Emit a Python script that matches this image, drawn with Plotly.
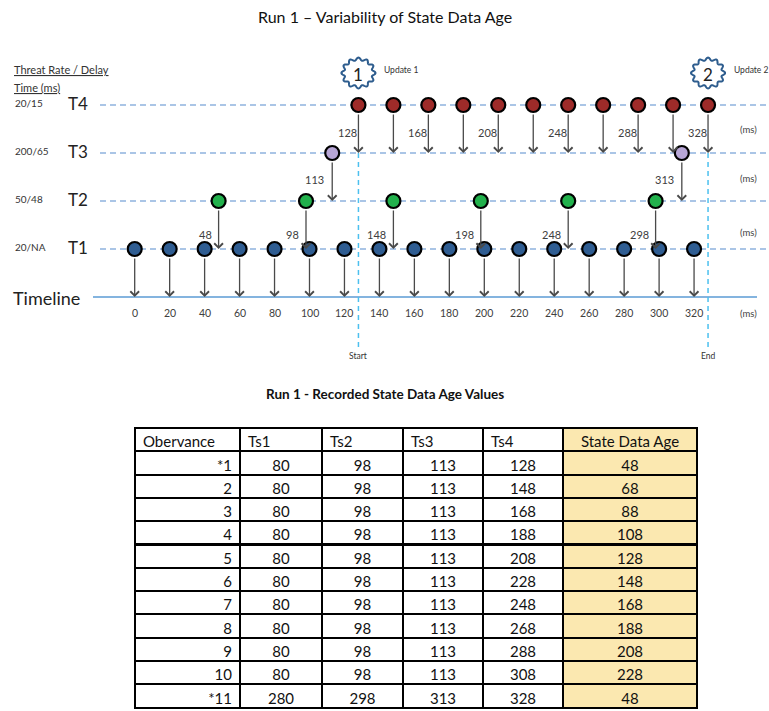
import numpy as np
import plotly.graph_objects as go

W, H = 769, 711

# ---- timing diagram data (ms) ----
t1_times = [0, 20, 40, 60, 80, 100, 120, 140, 160, 180, 200, 220, 240, 260, 280, 300, 320]
t2_times = [48, 98, 148, 198, 248, 298]
t3_times = [113, 313]
t4_times = [128, 148, 168, 188, 208, 228, 248, 268, 288, 308, 328]
t4_labelled = [128, 168, 208, 248, 288, 328]
update_times = [128, 328]
update_names = ["1", "2"]
tick_vals = [0, 20, 40, 60, 80, 100, 120, 140, 160, 180, 200, 220, 240, 260, 280, 300, 320]
thread_names = ["T1", "T2", "T3", "T4"]
thread_rates = ["20/NA", "50/48", "200/65", "20/15"]
thread_colors = ["#2f5d92", "#22b14c", "#b7a6d6", "#9e2b29"]

# ---- table data ----
obs = ["*1", "2", "3", "4", "5", "6", "7", "8", "9", "10", "*11"]
ts1 = [80, 80, 80, 80, 80, 80, 80, 80, 80, 80, 280]
ts2 = [98, 98, 98, 98, 98, 98, 98, 98, 98, 98, 298]
ts3 = [113, 113, 113, 113, 113, 113, 113, 113, 113, 113, 313]
ts4 = [128, 148, 168, 188, 208, 228, 248, 268, 288, 308, 328]
sda = [48, 68, 88, 108, 128, 148, 168, 188, 208, 228, 48]

FONT = "Lato"
X0, PXMS = 134.7, 1.748      # pixel of 0 ms, pixels per ms
Y0, PXLV = 297.0, 48.0       # pixel of timeline, pixels per level


def lv(py):
    return (Y0 - py) / PXLV


def px(x):
    return x / W


def py(y):
    return 1 - y / H


fig = go.Figure()

# level lines
shapes = []
for i in range(1, 5):
    shapes.append(dict(type="line", xref="paper", yref="y", x0=px(100), x1=px(766),
                       y0=i, y1=i, layer="below",
                       line=dict(color="#8fb3de", width=1.4, dash="6px,4px")))
shapes.append(dict(type="line", xref="paper", yref="y", x0=px(93), x1=px(757),
                   y0=0, y1=0, layer="below", line=dict(color="#5b9bd5", width=1.6)))

# update badges
th = np.linspace(0, 2 * np.pi, 241)
r = 1 + 0.1 * np.cos(12 * th)
bx, by = 15.5 * r * np.cos(th), 14 * r * np.sin(th)
badge = "M" + " L".join(f"{a:.2f},{b:.2f}" for a, b in zip(bx, by)) + " Z"
for t in update_times:
    shapes.append(dict(type="path", xref="x", yref="y", xsizemode="pixel", ysizemode="pixel",
                       xanchor=t, yanchor=lv(73), path=badge, fillcolor="white",
                       line=dict(color="#2e5d8e", width=2)))

# start / end lines
for t in update_times:
    fig.add_trace(go.Scatter(x=[t, t], y=[3, lv(350)], mode="lines",
                             line=dict(color="#4cc0ef", width=1.5, dash="5px,4px"),
                             hoverinfo="skip"))

# dots
for times, i in [(t1_times, 1), (t2_times, 2), (t3_times, 3), (t4_times, 4)]:
    fig.add_trace(go.Scatter(x=times, y=[i] * len(times), mode="markers",
                             marker=dict(size=14, color=thread_colors[i - 1],
                                         line=dict(color="black", width=2.2))))

ann = []
arrow = dict(showarrow=True, arrowhead=4, arrowsize=1.3, arrowwidth=1.3,
             arrowcolor="#4a4a4a", axref="x", ayref="y", xref="x", yref="y",
             text="", startstandoff=8, standoff=0)
for times, i in [(t1_times, 1), (t2_times, 2), (t3_times, 3), (t4_times, 4)]:
    for t in times:
        ann.append(dict(arrow, x=t, y=i - 1, ax=t, ay=i))

lab = dict(showarrow=False, xref="x", yref="y", xanchor="right", yanchor="middle",
           font=dict(family=FONT, size=11, color="#404040"))
for t in t4_labelled:
    ann.append(dict(lab, x=t, y=lv(132), text=str(t), xshift=1))
for t in t3_times:
    ann.append(dict(lab, x=t, y=lv(179), text=str(t), xshift=-6))
for t in t2_times:
    ann.append(dict(lab, x=t, y=lv(234), text=str(t), xshift=-5))

# tick labels under the timeline
for t in tick_vals:
    ann.append(dict(showarrow=False, xref="x", yref="y", x=t, y=lv(313), text=str(t),
                    xanchor="center", yanchor="middle",
                    font=dict(family=FONT, size=10.5, color="#404040")))

# thread labels on the left
for i in range(4):
    yy = i + 1
    ann.append(dict(showarrow=False, xref="paper", yref="y", x=px(13), y=yy, xanchor="left",
                    yanchor="middle", yshift=2, text=thread_rates[i],
                    font=dict(family=FONT, size=10, color="#333")))
    ann.append(dict(showarrow=False, xref="paper", yref="y", x=px(66), y=yy, xanchor="left",
                    yanchor="middle", yshift=2, text=thread_names[i],
                    font=dict(family=FONT, size=17, color="#222")))
ann.append(dict(showarrow=False, xref="paper", yref="y", x=px(11), y=0, xanchor="left",
                yanchor="middle", yshift=-1, text="Timeline",
                font=dict(family=FONT, size=18, color="#222")))
ann.append(dict(showarrow=False, xref="paper", yref="paper", x=px(12), y=py(70), xanchor="left",
                yanchor="middle", text="<u>Threat Rate / Delay</u>",
                font=dict(family=FONT, size=11, color="#333")))
ann.append(dict(showarrow=False, xref="paper", yref="paper", x=px(12), y=py(87), xanchor="left",
                yanchor="middle", text="<u>Time (ms)</u>",
                font=dict(family=FONT, size=11, color="#333")))

# (ms) units
for yy in [129, 178, 233, 313]:
    ann.append(dict(showarrow=False, xref="paper", yref="paper", x=px(738), y=py(yy),
                    xanchor="left", yanchor="middle",
                    text="(ms)", font=dict(family=FONT, size=9.5, color="#444")))

# badges text, start/end
for t, name, txt in zip(update_times, update_names, ["Update 1", "Update 2"]):
    ann.append(dict(showarrow=False, xref="x", yref="y", x=t, y=lv(74), text=name,
                    xanchor="center", yanchor="middle",
                    font=dict(family=FONT, size=17, color="#222")))
    ann.append(dict(showarrow=False, xref="x", yref="y", x=t, y=lv(70), text=txt,
                    xanchor="left", yanchor="middle", xshift=24,
                    font=dict(family=FONT, size=8.5, color="#333")))
for t, txt in zip(update_times, ["Start", "End"]):
    ann.append(dict(showarrow=False, xref="x", yref="y", x=t, y=lv(356), text=txt,
                    xanchor="center", yanchor="middle",
                    font=dict(family=FONT, size=8.5, color="#333")))

# titles
ann.append(dict(showarrow=False, xref="paper", yref="paper", x=0.5, y=py(17),
                xanchor="center", yanchor="middle",
                text="Run 1 – Variability of State Data Age",
                font=dict(family=FONT, size=16, color="#111")))
ann.append(dict(showarrow=False, xref="paper", yref="paper", x=0.5, y=py(394),
                xanchor="center", yanchor="middle",
                text="<b>Run 1 - Recorded State Data Age Values</b>",
                font=dict(family=FONT, size=13.5, color="#111")))

# table
yellow = "#fbe8b0"
n = len(obs)
fig.add_trace(go.Table(
    domain=dict(x=[px(135), px(697)], y=[0, py(428)]),
    columnwidth=[105, 82, 81, 80, 80, 134],
    header=dict(values=["Obervance", "Ts1", "Ts2", "Ts3", "Ts4", "State Data Age"],
                fill_color=["white"] * 5 + [yellow],
                align=["left"] * 5 + ["center"],
                line=dict(color="black", width=2.2),
                font=dict(family=FONT, size=15, color="#111"), height=23.3),
    cells=dict(values=[obs, ts1, ts2, ts3, ts4, sda],
               fill_color=[["white"] * n] * 5 + [[yellow] * n],
               align=["right"] + ["center"] * 5,
               line=dict(color="black", width=2.2),
               font=dict(family=FONT, size=15, color="#111"), height=23.3),
))

fig.update_layout(
    width=W, height=H, autosize=False,
    margin=dict(l=0, r=0, t=0, b=0, pad=0),
    paper_bgcolor="white", plot_bgcolor="white",
    showlegend=False,
    xaxis=dict(range=[-X0 / PXMS, (W - X0) / PXMS], visible=False, fixedrange=True),
    yaxis=dict(range=[-(H - Y0) / PXLV, Y0 / PXLV], visible=False, fixedrange=True),
    shapes=shapes, annotations=ann,
)

fig.write_html("out.html", config={"displayModeBar": False},
               post_script="document.body.style.margin='0';")
